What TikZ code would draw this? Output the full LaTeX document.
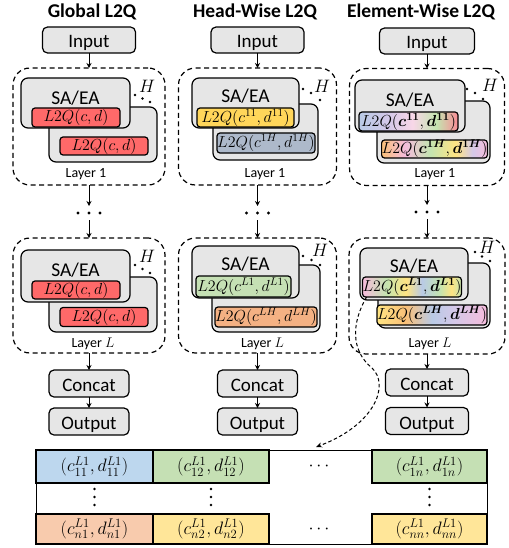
\documentclass[tikz,border=0pt]{standalone}
\usepackage{fix-cm}
\usepackage{amsmath}
\usepackage{bm}
\usepackage[no-math]{fontspec}
\setmainfont{Carlito}
\usetikzlibrary{arrows.meta}

\definecolor{boxgray}{RGB}{230,230,230}
\definecolor{qred}{RGB}{255,105,105}
\definecolor{qyellow}{RGB}{255,214,90}
\definecolor{qblue}{RGB}{173,185,202}
\definecolor{qgreen}{RGB}{197,224,180}
\definecolor{qorange}{RGB}{244,177,131}
\definecolor{cblue}{RGB}{189,215,238}
\definecolor{cgreen}{RGB}{197,224,180}
\definecolor{corange}{RGB}{248,203,173}
\definecolor{cyellow}{RGB}{255,230,153}
\definecolor{mblue}{RGB}{185,202,230}
\definecolor{mlav}{RGB}{212,200,232}
\definecolor{mpink}{RGB}{245,188,220}
\definecolor{mlpink}{RGB}{248,215,232}
\definecolor{mgreen}{RGB}{196,228,176}
\definecolor{myellow}{RGB}{255,228,130}
\definecolor{morange}{RGB}{250,192,120}
\definecolor{mred}{RGB}{250,140,150}

\pgfdeclarehorizontalshading{mixa}{100bp}{color(0bp)=(mblue); color(25bp)=(mblue); color(40bp)=(mlav); color(52bp)=(mlpink); color(64bp)=(mgreen); color(75bp)=(mred); color(100bp)=(mred)}
\pgfdeclarehorizontalshading{mixb}{100bp}{color(0bp)=(morange); color(25bp)=(morange); color(36bp)=(mpink); color(48bp)=(mgreen); color(60bp)=(myellow); color(68bp)=(mlav); color(75bp)=(mpink); color(100bp)=(mpink)}
\pgfdeclarehorizontalshading{mixc}{100bp}{color(0bp)=(mpink); color(25bp)=(mpink); color(37bp)=(mgreen); color(47bp)=(myellow); color(55bp)=(mblue); color(64bp)=(mgreen); color(70bp)=(myellow); color(75bp)=(mgreen); color(100bp)=(mgreen)}
\pgfdeclarehorizontalshading{mixd}{100bp}{color(0bp)=(myellow); color(25bp)=(myellow); color(38bp)=(morange); color(50bp)=(mblue); color(60bp)=(mlav); color(75bp)=(mpink); color(100bp)=(mpink)}

\begin{document}
\begin{tikzpicture}[x=1pt, y=-1pt,
  every node/.style={inner sep=0pt, outer sep=0pt},
  title/.style={font=\bfseries\fontsize{19.5}{20}\selectfont, anchor=base},
  iobox/.style={draw, line width=1.2pt, rounded corners=5pt, fill=boxgray, font=\fontsize{19}{20}\selectfont, text height=16pt, text depth=0pt},
  layerbox/.style={draw, line width=1.2pt, dash pattern=on 5pt off 3.5pt, rounded corners=17pt},
  headbox/.style={draw, line width=1.2pt, rounded corners=7pt, fill=boxgray},
  qbox/.style={draw, line width=1.2pt, rounded corners=3pt, font=\fontsize{16}{16}\selectfont},
  salabel/.style={font=\fontsize{19.5}{20}\selectfont, anchor=base, text depth=0pt},
  layerlabel/.style={font=\fontsize{14}{15}\selectfont, anchor=base},
  hlabel/.style={font=\fontsize{18}{18}\selectfont},
  dotsbox/.style={minimum width=30, minimum height=14},
  vdotsbox/.style={minimum width=6, minimum height=22},
  cell/.style={draw, line width=1.2pt, font=\fontsize{18}{18}\selectfont},
  arr/.style={-{Stealth[length=5pt, width=5pt]}, line width=1pt},
  curvearr/.style={-{Stealth[length=6pt, width=5pt]}, line width=1pt, dash pattern=on 3.5pt off 2.5pt}]
  \useasboundingbox (0,0) rectangle (508,548);

  \node[title] (t1) at (92,17.5) {Global L2Q};
  \node[title] (t2) at (255,17.5) {Head-Wise L2Q};
  \node[title] (t3) at (421,17.5) {Element-Wise L2Q};

  \node[iobox, minimum width=93, minimum height=26] (in1) at (89,40) {Input};
  \node[iobox, minimum width=93, minimum height=26] (in2) at (257.5,40) {Input};
  \node[iobox, minimum width=95, minimum height=26] (in3) at (427,41) {Input};

  \node[layerbox, minimum width=152, minimum height=117] (lay11) at (89,126.5) {};
  \node[headbox, minimum width=108, minimum height=55] (back11) at (103,134.5) {};
  \node[qbox, fill=qred, minimum width=88, minimum height=18] (qb11) at (104,146) {$L2Q(c,d)$};
  \node[headbox, minimum width=109, minimum height=50] (front11) at (75.5,103) {};
  \node[salabel] (sa11) at (75.5,104.5) {SA/EA};
  \node[qbox, fill=qred, minimum width=88, minimum height=19] (qf11) at (76,117.5) {$L2Q(c,d)$};
  \node[hlabel] (h11) at (147,86) {$H$};
  \node[layerlabel] (ly11) at (86,177.5) {Layer 1};

  \node[dotsbox] (dot1) at (89,213) {};

  \node[layerbox, minimum width=152, minimum height=115] (lay1L) at (89,295.5) {};
  \node[headbox, minimum width=108, minimum height=55] (back1L) at (103,304.5) {};
  \node[qbox, fill=qred, minimum width=88, minimum height=19] (qb1L) at (104,317) {$L2Q(c,d)$};
  \node[headbox, minimum width=109, minimum height=52] (front1L) at (75.5,276) {};
  \node[salabel] (sa1L) at (75.5,276.5) {SA/EA};
  \node[qbox, fill=qred, minimum width=88, minimum height=18] (qf1L) at (76,290) {$L2Q(c,d)$};
  \node[hlabel] (h1L) at (147,256) {$H$};
  \node[layerlabel] (ly1L) at (93,347.5) {Layer $L$};

  \node[iobox, minimum width=80, minimum height=27] (cc1) at (89,383.5) {Concat};
  \node[iobox, minimum width=80, minimum height=27] (out1) at (89,421.5) {Output};

  \node[layerbox, minimum width=158, minimum height=117] (lay21) at (257.5,126.5) {};
  \node[headbox, minimum width=105, minimum height=56] (back21) at (265.5,132) {};
  \node[qbox, fill=qblue, minimum width=98, minimum height=20] (qb21) at (266,143) {$L2Q(c^{1H},d^{1H})$};
  \node[headbox, minimum width=107, minimum height=50] (front21) at (245.5,103) {};
  \node[salabel] (sa21) at (245.5,102.5) {SA/EA};
  \node[qbox, fill=qyellow, minimum width=97, minimum height=19] (qf21) at (245.5,117.5) {$L2Q(c^{11},d^{11})$};
  \node[hlabel] (h21) at (322,86) {$H$};
  \node[layerlabel] (ly21) at (265,177.5) {Layer 1};

  \node[dotsbox] (dot2) at (257.5,213) {};

  \node[layerbox, minimum width=158, minimum height=115] (lay2L) at (257.5,295.5) {};
  \node[headbox, minimum width=108, minimum height=67] (back2L) at (266,298.5) {};
  \node[qbox, fill=qorange, minimum width=102, minimum height=20] (qb2L) at (266,317) {$L2Q(c^{LH},d^{LH})$};
  \node[headbox, minimum width=107, minimum height=52] (front2L) at (245.5,272) {};
  \node[salabel] (sa2L) at (245.5,270.5) {SA/EA};
  \node[qbox, fill=qgreen, minimum width=95, minimum height=21] (qf2L) at (243.5,286.5) {$L2Q(c^{L1},d^{L1})$};
  \node[hlabel] (h2L) at (320,250) {$H$};
  \node[layerlabel] (ly2L) at (262.5,347.5) {Layer $L$};

  \node[iobox, minimum width=80, minimum height=27] (cc2) at (257.5,383.5) {Concat};
  \node[iobox, minimum width=80, minimum height=27] (out2) at (257.5,421.5) {Output};

  \node[layerbox, minimum width=155, minimum height=117] (lay31) at (427,127) {};
  \node[headbox, minimum width=113, minimum height=62] (back31) at (433.5,132) {};
  \node[qbox, shading=mixb, minimum width=100, minimum height=18] (qb31) at (434.5,149) {$L2Q(\bm{c}^{\bm{1H}},\bm{d}^{\bm{1H}})$};
  \node[headbox, minimum width=110, minimum height=52] (front31) at (410,106) {};
  \node[salabel] (sa31) at (410,107) {SA/EA};
  \node[qbox, shading=mixa, minimum width=99, minimum height=19] (qf31) at (408.5,121.5) {$L2Q(\bm{c}^{\bm{11}},\bm{d}^{\bm{11}})$};
  \node[hlabel] (h31) at (490,85) {$H$};
  \node[layerlabel] (ly31) at (435,177.5) {Layer 1};

  \node[dotsbox] (dot3) at (427,212) {};

  \node[layerbox, minimum width=156, minimum height=116] (lay3L) at (427,296) {};
  \node[headbox, minimum width=112, minimum height=65] (back3L) at (434,295.5) {};
  \node[qbox, shading=mixd, minimum width=100, minimum height=20] (qb3L) at (432,315) {$L2Q(\bm{c}^{\bm{LH}},\bm{d}^{\bm{LH}})$};
  \node[headbox, minimum width=108, minimum height=52] (front3L) at (414,274) {};
  \node[salabel] (sa3L) at (414,272.5) {SA/EA};
  \node[qbox, shading=mixc, minimum width=94, minimum height=20] (qf3L) at (412,287) {$L2Q(\bm{c}^{\bm{L1}},\bm{d}^{\bm{L1}})$};
  \node[hlabel] (h3L) at (487,247) {$H$};
  \node[layerlabel] (ly3L) at (430,347.5) {Layer $L$};

  \node[iobox, minimum width=83, minimum height=27] (cc3) at (427,382.5) {Concat};
  \node[iobox, minimum width=83, minimum height=27] (out3) at (427,421) {Output};

  \foreach \p in {(135,95),(142.5,98.5),(150,102),(135,265),(142.5,269),(150,273),
                  (303,89),(311,93),(320,100),(303,256),(311.5,260),(320,265),
                  (467,89),(475,93),(483,99),(475,252),(482,256.5),(490,261)}
    \fill \p circle (1.3);
  \foreach \n in {dot1,dot2,dot3}
    \foreach \dx in {-11,0,11}
      \fill ([xshift=\dx pt]\n.center) circle (1.6);

  \draw[arr] (in1.south) -- (lay11.north);
  \draw[arr] (lay11.south) -- (dot1.north);
  \draw[arr] (dot1.south) -- (lay1L.north);
  \draw[arr] (lay1L.south) -- (cc1.north);
  \draw[arr] (cc1.south) -- (out1.north);
  \draw[arr] (in2.south) -- (lay21.north);
  \draw[arr] (lay21.south) -- (dot2.north);
  \draw[arr] (dot2.south) -- (lay2L.north);
  \draw[arr] (lay2L.south) -- (cc2.north);
  \draw[arr] (cc2.south) -- (out2.north);
  \draw[arr] (in3.south) -- (lay31.north);
  \draw[arr] (lay31.south) -- (dot3.north);
  \draw[arr] (dot3.south) -- (lay3L.north);
  \draw[arr] (lay3L.south) -- (cc3.north);
  \draw[arr] (cc3.south) -- (out3.north);

  \node[draw, line width=1pt, minimum width=451, minimum height=94] (tab) at (261.5,497) {};
  \node[cell, fill=cblue, minimum width=117, minimum height=33] (e11) at (94.5,466.5) {$(c_{11}^{L1},d_{11}^{L1})$};
  \node[cell, fill=cgreen, minimum width=116, minimum height=33] (e12) at (211,466.5) {$(c_{12}^{L1},d_{12}^{L1})$};
  \node[cell, fill=cgreen, minimum width=115, minimum height=33] (e1n) at (429.5,466.5) {$(c_{1n}^{L1},d_{1n}^{L1})$};
  \node[cell, fill=corange, minimum width=117, minimum height=30] (en1) at (94.5,529) {$(c_{n1}^{L1},d_{n1}^{L1})$};
  \node[cell, fill=cyellow, minimum width=116, minimum height=30] (en2) at (211,529) {$(c_{n2}^{L1},d_{n2}^{L1})$};
  \node[cell, fill=cyellow, minimum width=115, minimum height=30] (enn) at (429.5,529) {$(c_{nn}^{L1},d_{nn}^{L1})$};
  \node[font=\fontsize{18}{18}\selectfont] (hd1) at (320.5,466.5) {$\cdots$};
  \node[font=\fontsize{18}{18}\selectfont] (hd3) at (320.5,529) {$\cdots$};
  \node[vdotsbox] (vd1) at (94.5,497) {};
  \node[vdotsbox] (vd2) at (211,497) {};
  \node[vdotsbox] (vd4) at (429.5,497) {};
  \foreach \n in {vd1,vd2,vd4}
    \foreach \dy in {-8,0,8}
      \fill ([yshift=\dy pt]\n.center) circle (1.3);

  \coordinate (tabin) at (316,447);
  \draw[curvearr] ([xshift=4pt]qf3L.south west) .. controls (352,322) and (350,350) .. (372,368)
    .. controls (390,385) and (375,425) .. (tabin);
\end{tikzpicture}
\end{document}
